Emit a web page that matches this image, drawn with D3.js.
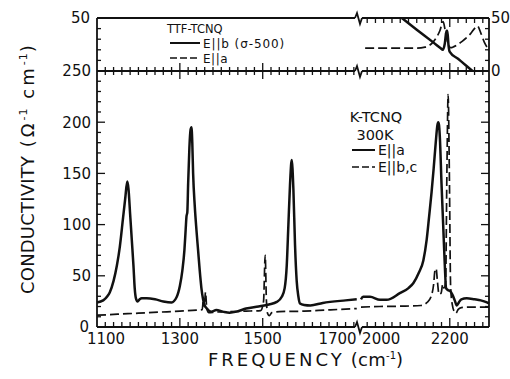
<!DOCTYPE html>
<html>
<head>
<meta charset="utf-8">
<script src="https://cdn.jsdelivr.net/npm/d3@7"></script>
<style>
  body { margin: 0; background: #fff; }
  svg { display: block; }
  text { font-family: "DejaVu Sans", sans-serif; fill: #111; }
</style>
</head>
<body>
<div id="chart"></div>
<script>
// K-TCNQ 300K, E||a (solid) - [frequency cm-1, conductivity]
const kTcnqEa = [
  [1100,24],[1115,26],[1125,30],[1131,34],[1140,45],[1148,60],[1155,78],[1163,107],[1168,125],[1173,142],
  [1176,135],[1180,110],[1184,85],[1188,60],[1191,38],[1194,28],[1198,25],[1203,27],[1208,28],[1220,28],
  [1240,27],[1260,25],[1280,24],[1292,29],[1300,40],[1306,55],[1311,75],[1314,95],[1316,108],[1318,112],
  [1320,140],[1323,175],[1326,193],[1328,195],[1330,180],[1332,150],[1336,118],[1340,95],[1344,75],[1348,55],
  [1352,38],[1356,27],[1360,21],[1364,18.5],[1376,15],[1388,16.5],[1404,15],[1420,14],[1437,15],[1460,18],
  [1490,20],[1515,22],[1534,24.5],[1546,29.5],[1553,38],[1558,60],[1562,100],[1566,140],[1570,163],[1574,135],
  [1578,80],[1582,45],[1586,30],[1590,23],[1600,21.5],[1615,21],[1645,23.5],[1700,26],[1727,27],
  [1985,27],[1990,29.5],[2007,29.5],[2031,26.5],[2047,26.5],[2079,33],[2100,38],[2112,43],[2125,53],[2136,65],
  [2144,85],[2150,108],[2156,132],[2161,155],[2166,180],[2170,197],[2172,200],[2174,197],[2176,185],[2180,140],
  [2184,100],[2188,60],[2191,38],[2196,36],[2201,35],[2206,32],[2212,26],[2217,21],[2222,24],[2228,27],
  [2241,28],[2260,27],[2275,26],[2290,24],[2295,23]
];

// K-TCNQ 300K, E||b,c (dashed)
const kTcnqEbc = [
  [1100,11.5],[1150,12.5],[1200,13.5],[1250,14.5],[1300,15.5],[1340,16.5],[1354,17],[1357,28],[1359,20],[1362,34],
  [1365,18],[1370,14],[1385,14.5],[1420,15],[1460,15.5],[1495,16],[1502,25],[1506,70],[1509,25],[1512,13],
  [1516,11],[1522,14],[1540,15],[1600,15.5],[1650,16.5],[1700,17.5],[1727,18],
  [1985,19.5],[2030,20],[2080,20.3],[2130,21],[2145,24],[2155,30],[2161,42],[2164,55],[2167,57],
  [2170,45],[2174,32],[2179,33],[2183,42],[2186,38],[2190,45],[2193,150],[2196,227],[2199,150],[2202,40],
  [2206,22],[2211,15],[2215,13.5],[2220,17],[2228,19],[2250,19.5],[2295,19.5]
];

// TTF-TCNQ, E||b (sigma - 500, solid) and E||a (dashed), upper panel
const ttfEb = [
  [2084,50],[2120,39],[2160,27],[2178,21.5],[2183,20],[2188,26],[2192,38],[2194,38],[2197,24],[2200,18],
  [2220,11.5],[2240,5],[2255,0]
];
const ttfEa = [
  [1995,21.5],[2060,21.5],[2120,21.5],[2140,22.5],[2160,27.5],[2176,38],[2184,46.5],[2189,38],[2195,27],[2202,22],
  [2210,23],[2230,28],[2250,35],[2262,41],[2267,42.5],[2275,36],[2285,26],[2293,21]
];

const xLabels = [1100, 1300, 1500, 1700, 2000, 2200];
const yMainLabels = [0, 50, 100, 150, 200, 250];
const yTopLabels = [50];
const BREAK = [1730, 1985];

const W = 510, H = 379;
const L = 97, R = 489, TOP = 18, MID = 71, BOT = 327, BX = 359;

const svg = d3.select('#chart').append('svg').attr('width', W).attr('height', H);

const x = d3.scaleLinear().domain([1100, BREAK[0], BREAK[1], 2295]).range([L, BX - 1, BX + 2, R]);
const y = d3.scaleLinear().domain([0, 250]).range([BOT, MID]);
const yTop = d3.scaleLinear().domain([0, 50]).range([MID, TOP]);

const split = data => [data.filter(d => d[0] <= BREAK[0]), data.filter(d => d[0] >= BREAK[1])].filter(s => s.length);

function drawCurve(data, ys, dashed) {
  const line = d3.line().x(d => x(d[0])).y(d => ys(d[1])).curve(d3.curveMonotoneX);
  split(data).forEach(seg => {
    svg.append('path').attr('d', line(seg)).attr('fill', 'none').attr('stroke', '#111')
      .attr('stroke-width', dashed ? 1.7 : 2.5).attr('stroke-linejoin', 'round')
      .attr('stroke-dasharray', dashed ? '9,4' : null);
  });
}

drawCurve(kTcnqEa, y, false);
drawCurve(kTcnqEbc, y, true);
drawCurve(ttfEb, yTop, false);
drawCurve(ttfEa, yTop, true);

// frame with broken horizontal lines
const frame = svg.append('g').attr('stroke', '#111').attr('stroke-width', 1.8).attr('fill', 'none');
[TOP, MID, BOT].forEach(yy => {
  frame.append('line').attr('x1', L).attr('x2', BX - 4).attr('y1', yy).attr('y2', yy);
  frame.append('line').attr('x1', BX + 3).attr('x2', R).attr('y1', yy).attr('y2', yy);
  frame.append('path').attr('d', `M${BX - 4},${yy} L${BX - 2},${yy - 5} L${BX + 1},${yy + 6} L${BX + 3},${yy}`);
});
frame.append('line').attr('x1', L).attr('x2', L).attr('y1', TOP).attr('y2', BOT);
frame.append('line').attr('x1', R).attr('x2', R).attr('y1', TOP).attr('y2', BOT);

// ticks
const ticks = svg.append('g').attr('stroke', '#111').attr('stroke-width', 1.3);
const xTicks = d3.range(1120, 1721, 20).concat(d3.range(2000, 2281, 20));
const isMajor = v => [1300, 1500, 2200].includes(v);
xTicks.forEach(v => {
  const xx = x(v), len = isMajor(v) ? 9 : 5;
  ticks.append('line').attr('x1', xx).attr('x2', xx).attr('y1', BOT).attr('y2', BOT - len);
  ticks.append('line').attr('x1', xx).attr('x2', xx).attr('y1', MID - len + 1).attr('y2', MID + len - 1);
  if (v >= 2000) ticks.append('line').attr('x1', xx).attr('x2', xx).attr('y1', TOP).attr('y2', TOP + len);
});
d3.range(10, 250, 10).forEach(v => {
  const len = v % 50 === 0 ? 8 : 4;
  ticks.append('line').attr('x1', L).attr('x2', L + len).attr('y1', y(v)).attr('y2', y(v));
  ticks.append('line').attr('x1', R).attr('x2', R - len).attr('y1', y(v)).attr('y2', y(v));
});
d3.range(10, 50, 10).forEach(v => {
  ticks.append('line').attr('x1', L).attr('x2', L + 4).attr('y1', yTop(v)).attr('y2', yTop(v));
  ticks.append('line').attr('x1', R).attr('x2', R - 4).attr('y1', yTop(v)).attr('y2', yTop(v));
});

// tick labels
const lblOffset = { 1100: 9, 1700: -8, 2000: 14 };
svg.selectAll('.xl').data(xLabels).enter().append('text')
  .attr('x', d => x(d) + (lblOffset[d] || 0)).attr('y', 344).attr('text-anchor', 'middle')
  .attr('font-size', '15px').text(d => d);
svg.selectAll('.yl').data(yMainLabels).enter().append('text')
  .attr('x', d => d === 0 ? 89 : 91).attr('y', d => y(d)).attr('dy', '0.36em').attr('text-anchor', 'end')
  .attr('font-size', '15px').text(d => d);
svg.selectAll('.ytl').data(yTopLabels).enter().append('text')
  .attr('x', 90).attr('y', d => yTop(d)).attr('dy', '0.36em').attr('text-anchor', 'end')
  .attr('font-size', '15px').text(d => d);
svg.selectAll('.ytr').data([0].concat(yTopLabels)).enter().append('text')
  .attr('x', 491).attr('y', d => yTop(d)).attr('dy', '0.36em').attr('text-anchor', 'start')
  .attr('font-size', '15px').text(d => d);

// axis titles
const xt = svg.append('text').attr('x', 208).attr('y', 366).attr('font-size', '18px');
xt.append('tspan').attr('letter-spacing', '3px').text('FREQUENCY');
xt.append('tspan').attr('letter-spacing', '0.3px').text(' (cm');
xt.append('tspan').attr('dy', -7).attr('font-size', '10px').text('-1');
xt.append('tspan').attr('dy', 7).text(')');

const yt = svg.append('text').attr('transform', 'translate(34,294) rotate(-90)').attr('font-size', '18px');
yt.append('tspan').attr('letter-spacing', '0.2px').text('CONDUCTIVITY');
yt.append('tspan').attr('letter-spacing', '3px').text(' (Ω');
yt.append('tspan').attr('dy', -7).attr('font-size', '11px').attr('letter-spacing', '1px').text('-1');
yt.append('tspan').attr('dy', 7).attr('letter-spacing', '3px').text(' cm');
yt.append('tspan').attr('dy', -7).attr('font-size', '11px').attr('letter-spacing', '1px').text('-1');
yt.append('tspan').attr('dy', 7).text(')');

// legends
function legendItem(x0, x1, yy, dashed, label, fs, tx, ls) {
  svg.append('line').attr('x1', x0).attr('x2', x1).attr('y1', yy).attr('y2', yy)
    .attr('stroke', '#111').attr('stroke-width', dashed ? 1.5 : 2)
    .attr('stroke-dasharray', dashed ? '7,3' : null);
  svg.append('text').attr('x', tx).attr('y', yy + 5).attr('font-size', fs)
    .attr('letter-spacing', ls || 0).text(label);
}
svg.append('text').attr('x', 167).attr('y', 33).attr('font-size', '11.5px').text('TTF-TCNQ');
legendItem(170, 200, 43, false, 'E||b (σ-500)', '12px', 203, '0.9px');
legendItem(170, 200, 58, true, 'E||a', '12px', 203, '0.5px');

svg.append('text').attr('x', 376).attr('y', 122).attr('text-anchor', 'middle').attr('font-size', '14.5px').text('K-TCNQ');
svg.append('text').attr('x', 375).attr('y', 140).attr('text-anchor', 'middle').attr('font-size', '14.5px').text('300K');
legendItem(352, 375, 150, false, 'E||a', '14px', 378);
legendItem(352, 375, 167, true, 'E||b,c', '14px', 378);
</script>
</body>
</html>
